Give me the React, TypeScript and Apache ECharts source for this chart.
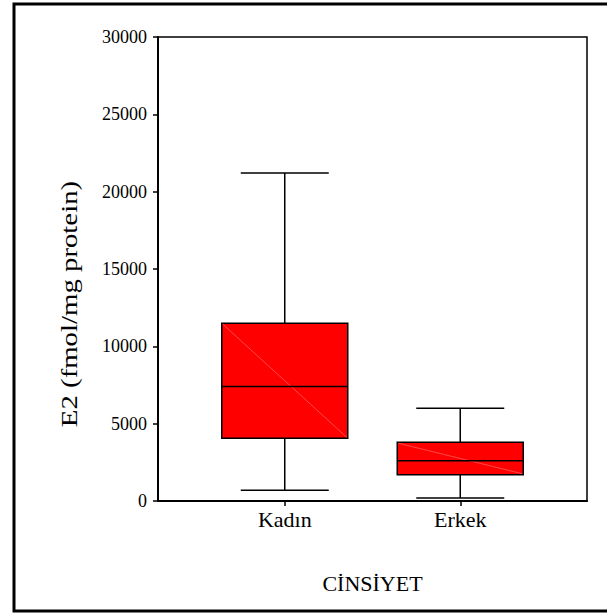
import React, { useEffect, useRef } from "react";
import * as echarts from "echarts";

// ---- data ----
const categories = ["Kadın", "Erkek"];
const lowWhisker = [700, 200];
const q1Values = [4050, 1700];
const medianValues = [7400, 2600];
const q3Values = [11500, 3800];
const highWhisker = [21200, 6000];

const yTicks = [0, 5000, 10000, 15000, 20000, 25000, 30000];
const yName = "E2 (fmol/mg protein)";
const xName = "CİNSİYET";

// layout: categories sit in slots of a finer band grid
const SLOT_COUNT = 22;
const categorySlots = [6, 15];

const FONT = "Liberation Serif";

export default function App() {
  const ref = useRef<HTMLDivElement>(null);

  useEffect(() => {
    document.body.style.margin = "0";
    if (!ref.current) return;
    const chart = echarts.init(ref.current, undefined, { renderer: "svg" });

    const slotLabels: string[] = Array.from({ length: SLOT_COUNT }, () => "");
    categorySlots.forEach((s, i) => (slotLabels[s] = categories[i]));

    const data = categories.map((c, i) => [
      categorySlots[i],
      lowWhisker[i],
      q1Values[i],
      medianValues[i],
      q3Values[i],
      highWhisker[i],
    ]);

    const BOX_W = 126;
    const CAP_W = 88;
    const LW = 1.5;

    chart.setOption({
      animation: false,
      backgroundColor: "#ffffff",
      textStyle: { fontFamily: FONT },
      grid: {
        left: 158,
        top: 37,
        right: 20,
        bottom: 112,
        show: true,
        borderColor: "#000",
        borderWidth: 1.5,
        backgroundColor: "transparent",
      },
      xAxis: {
        type: "category",
        data: slotLabels,
        boundaryGap: true,
        axisLine: { show: true, lineStyle: { color: "#000", width: 2 } },
        axisTick: {
          show: true,
          alignWithLabel: true,
          length: 5,
          interval: (idx: number, val: string) => val !== "",
          lineStyle: { color: "#000", width: 1.5 },
        },
        axisLabel: {
          interval: (idx: number, val: string) => val !== "",
          color: "#000",
          fontFamily: FONT,
          fontSize: 22,
          margin: 7,
        },
        splitLine: { show: false },
      },
      yAxis: {
        type: "value",
        min: yTicks[0],
        max: yTicks[yTicks.length - 1],
        interval: yTicks[1] - yTicks[0],
        axisLine: { show: true, lineStyle: { color: "#000", width: 2 } },
        axisTick: { show: true, length: 5, lineStyle: { color: "#000", width: 1.5 } },
        axisLabel: {
          color: "#000",
          fontFamily: FONT,
          fontSize: 18,
          margin: 11,
          formatter: (v: number) => String(v),
        },
        splitLine: { show: false },
      },
      series: [
        {
          type: "custom",
          data,
          encode: { x: 0, y: [1, 2, 3, 4, 5] },
          renderItem: (params: any, api: any) => {
            const slot = api.value(0);
            const pLow = api.coord([slot, api.value(1)]);
            const cx = pLow[0];
            const yLow = pLow[1];
            const yQ1 = api.coord([slot, api.value(2)])[1];
            const yMed = api.coord([slot, api.value(3)])[1];
            const yQ3 = api.coord([slot, api.value(4)])[1];
            const yHigh = api.coord([slot, api.value(5)])[1];
            const stroke = { stroke: "#000", lineWidth: LW };
            return {
              type: "group",
              children: [
                { type: "line", shape: { x1: cx, y1: yHigh, x2: cx, y2: yQ3 }, style: stroke },
                { type: "line", shape: { x1: cx, y1: yQ1, x2: cx, y2: yLow }, style: stroke },
                { type: "line", shape: { x1: cx - CAP_W / 2, y1: yHigh, x2: cx + CAP_W / 2, y2: yHigh }, style: stroke },
                { type: "line", shape: { x1: cx - CAP_W / 2, y1: yLow, x2: cx + CAP_W / 2, y2: yLow }, style: stroke },
                {
                  type: "rect",
                  shape: { x: cx - BOX_W / 2, y: yQ3, width: BOX_W, height: yQ1 - yQ3 },
                  style: { fill: "#ff0000", stroke: "#000", lineWidth: LW },
                },
                {
                  type: "line",
                  shape: { x1: cx - BOX_W / 2 + 1, y1: yQ3 + 1, x2: cx + BOX_W / 2 - 1, y2: yQ1 - 1 },
                  style: { stroke: "#ff7a7a", lineWidth: 0.6 },
                },
                { type: "line", shape: { x1: cx - BOX_W / 2, y1: yMed, x2: cx + BOX_W / 2, y2: yMed }, style: stroke },
              ],
            };
          },
        },
      ],
      graphic: [
        {
          type: "rect",
          shape: { x: 14, y: 4, width: 700, height: 607 },
          style: { fill: "transparent", stroke: "#000", lineWidth: 3 },
          silent: true,
        },
        {
          type: "text",
          x: 69,
          y: 304,
          rotation: Math.PI / 2,
          scaleX: 1.2,
          style: {
            text: yName,
            fill: "#000",
            font: `24px ${FONT}`,
            textAlign: "center",
            textVerticalAlign: "middle",
          },
        },
        {
          type: "text",
          x: 372.5,
          y: 583,
          style: {
            text: xName,
            fill: "#000",
            font: `22px ${FONT}`,
            textAlign: "center",
            textVerticalAlign: "middle",
          },
        },
      ],
    });

    return () => chart.dispose();
  }, []);

  return <div ref={ref} style={{ width: 607, height: 613 }} />;
}
